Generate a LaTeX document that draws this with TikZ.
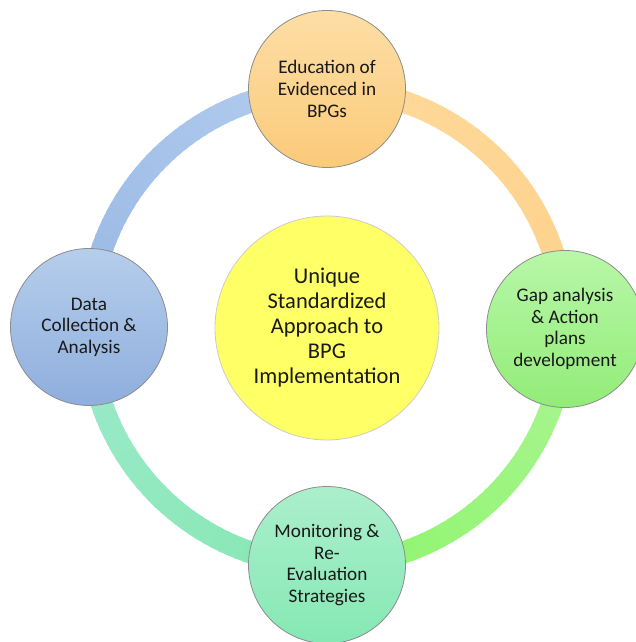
\documentclass[tikz,border=0pt]{standalone}
\usepackage{fontspec}
\setmainfont{Carlito}
\begin{document}
\begin{tikzpicture}[x=1pt,y=1pt,
  outer/.style={circle,minimum size=157pt,inner sep=0pt,draw=black!45,line width=0.8pt,
     align=center,font=\fontsize{19.2}{21.6}\selectfont,text=black!90},
  hub/.style={circle,minimum size=224pt,inner sep=0pt,draw=black!20,line width=0.8pt,fill=HubY,
     align=center,font=\fontsize{22.5}{25}\selectfont,text=black!90},
  ringseg/.style={line width=22pt}]
\definecolor{HubY}{HTML}{FFFF66}
\definecolor{BlA}{HTML}{B3CDEE}\definecolor{BlB}{HTML}{97B7E4}
\definecolor{OrA}{HTML}{FDD18C}\definecolor{OrB}{HTML}{FFDA9C}
\definecolor{GrA}{HTML}{8EF56C}\definecolor{GrB}{HTML}{ABF594}
\definecolor{TlA}{HTML}{9CE9CC}\definecolor{TlB}{HTML}{86E8B0}
\useasboundingbox (0,0) rectangle (635,642);
\coordinate (C) at (327,315);
% ring
\foreach \a in {0,2,...,88}{
  \pgfmathtruncatemacro\p{100*\a/90}
  \draw[ringseg,color=OrB!\p!OrA] ([shift={(\a:238)}]C) arc[start angle=\a,delta angle=2.6,radius=238];
  \draw[ringseg,color=BlB!\p!BlA] ([shift={(90+\a:238)}]C) arc[start angle=90+\a,delta angle=2.6,radius=238];
  \draw[ringseg,color=TlB!\p!TlA] ([shift={(180+\a:238)}]C) arc[start angle=180+\a,delta angle=2.6,radius=238];
  \draw[ringseg,color=GrB!\p!GrA] ([shift={(270+\a:238)}]C) arc[start angle=270+\a,delta angle=2.6,radius=238];
}
\node[hub] (hub) at (327,314) {Unique\\Standardized\\Approach to\\BPG\\Implementation};
\node[outer,top color={rgb,255:red,253;green,222;blue,166},bottom color={rgb,255:red,251;green,202;blue,122}] (edu) at (327,553) {Education of\\Evidenced in\\BPGs};
\node[outer,top color={rgb,255:red,184;green,247;blue,168},bottom color={rgb,255:red,146;green,236;blue,120}] (gap) at (565,313) {Gap analysis\\\&\ Action\\plans\\development};
\node[outer,top color={rgb,255:red,171;green,239;blue,204},bottom color={rgb,255:red,134;green,232;blue,180}] (mon) at (327,77) {Monitoring \&\\Re-\\Evaluation\\Strategies};
\node[outer,top color={rgb,255:red,182;green,206;blue,236},bottom color={rgb,255:red,142;green,174;blue,221}] (dat) at (89,315) {Data\\Collection \&\\Analysis};
\end{tikzpicture}
\end{document}
